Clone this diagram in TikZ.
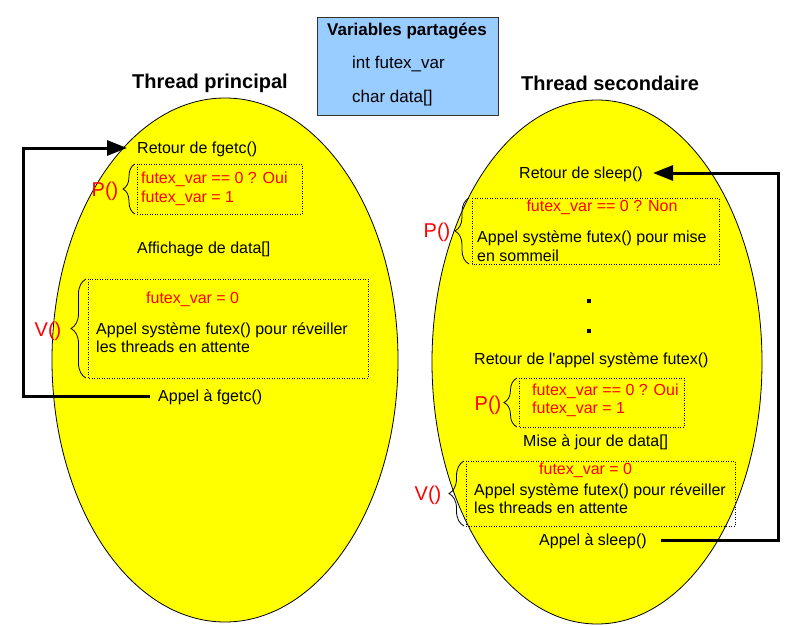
\documentclass[tikz,border=0pt]{standalone}
\usepackage{fontspec}
\setmainfont{Liberation Sans}
\usetikzlibrary{arrows.meta,decorations.pathreplacing,shapes.geometric}
\definecolor{ellyellow}{HTML}{FFFF00}
\definecolor{boxblue}{HTML}{99CCFF}
\definecolor{boxborder}{HTML}{333333}
\definecolor{txtred}{HTML}{FF0000}
\begin{document}
\begin{tikzpicture}[x=1pt,y=-1pt,
  txt/.style={font=\fontsize{16}{19}\selectfont, inner sep=0pt, anchor=west, text height=11.5pt, text depth=0pt},
  rtxt/.style={txt, text=txtred},
  title/.style={font=\fontsize{20}{24}\selectfont\bfseries, inner sep=0pt},
  semlabel/.style={font=\fontsize{20}{24}\selectfont, text=txtred, inner sep=0pt, text height=14.5pt, text depth=0pt},
  threadell/.style={ellipse, draw=black, line width=0.8pt, fill=ellyellow, inner sep=0pt},
  dotbox/.style={draw=black, line width=0.8pt, dash pattern=on 1pt off 1.5pt},
  semb/.style={draw=black, line width=0.8pt, decorate, decoration={brace, amplitude=#1}},
  loopline/.style={draw=black, line width=3pt},
  looparrow/.style={loopline, -{Triangle[length=20pt,width=15pt]}},
  dotsq/.style={fill=black, minimum size=4pt, inner sep=0pt}
]
\useasboundingbox (0,0) rectangle (800,626);

% shared variables box
\node[draw=boxborder, line width=0.8pt, fill=boxblue, minimum width=181pt, minimum height=98pt, inner sep=0pt] (shared) at (407.5,66) {};
\node[font=\fontsize{17}{20}\selectfont\bfseries, inner sep=0pt] (sharedtitle) at (407,31) {Variables partagées};
\node[txt, font=\fontsize{17}{20}\selectfont] (var1) at (352,63) {int futex\_var};
\node[txt, font=\fontsize{17}{20}\selectfont] (var2) at (352,97) {char data[]};

% titles
\node[title] (t1) at (210,83) {Thread principal};
\node[title] (t2) at (610,83) {Thread secondaire};

% ellipses
\node[threadell, minimum width=346pt, minimum height=524pt] (ell1) at (225,360) {};
\node[threadell, minimum width=330pt, minimum height=524pt] (ell2) at (597,362) {};

% ---------- main thread ----------
\node[txt] (retour1) at (137,148) {Retour de fgetc()};
\draw[dotbox] (137,164) rectangle (302,214);
\node[rtxt] (p1a) at (141,178) {futex\_var == 0 ? Oui};
\node[rtxt] (p1b) at (141,197) {futex\_var = 1};
\draw[semb=12pt] (135,214) -- (135,164);
\node[semlabel] (plab1) at (105,189) {P()};
\node[txt] (affich) at (137,248) {Affichage de data[]};
\draw[dotbox] (88,279) rectangle (368,378);
\node[rtxt] (v1a) at (146,298) {futex\_var = 0};
\node[txt] (v1b) at (96,329) {Appel système futex() pour réveiller};
\node[txt] (v1c) at (96,347) {les threads en attente};
\draw[semb=15pt] (86,378) -- (86,279);
\node[semlabel] (vlab1) at (48,329) {V()};
\node[txt] (appel1) at (158,396) {Appel à fgetc()};
\coordinate (loopL) at (23,270);
\draw[looparrow, shorten <=8pt, shorten >=10pt] (appel1.west) -| (loopL) |- (retour1.west);

% ---------- secondary thread ----------
\node[txt] (retour2) at (519,173) {Retour de sleep()};
\draw[dotbox] (472,198) rectangle (719,264);
\node[rtxt, anchor=center] (p2a) at (602,206) {futex\_var == 0 ? Non};
\node[txt] (p2b) at (477,237) {Appel système futex() pour mise};
\node[txt] (p2c) at (477,256) {en sommeil};
\draw[semb=14pt] (469,264) -- (469,198);
\node[semlabel] (plab2) at (437,230) {P()};
\node[dotsq] (dot1) at (589,301) {};
\node[dotsq] (dot2) at (589,331) {};
\node[txt] (retfutex) at (474,359) {Retour de l\textquotesingle appel système futex()};
\draw[dotbox] (519,378) rectangle (684,427);
\node[rtxt] (p3a) at (532,390) {futex\_var == 0 ? Oui};
\node[rtxt] (p3b) at (532,408) {futex\_var = 1};
\draw[semb=13pt] (517,427) -- (517,378);
\node[semlabel] (plab3) at (488,403) {P()};
\node[txt] (mise) at (523,441) {Mise à jour de data[]};
\draw[dotbox] (466,461) rectangle (735,526);
\node[rtxt] (v2a) at (539,469) {futex\_var = 0};
\node[txt] (v2b) at (474,490) {Appel système futex() pour réveiller};
\node[txt] (v2c) at (474,508) {les threads en attente};
\draw[semb=15pt] (464,526) -- (464,461);
\node[semlabel] (vlab2) at (428,493) {V()};
\node[txt] (appel2) at (539,540) {Appel à sleep()};
\coordinate (loopR) at (778,350);
\draw[looparrow, shorten <=14pt, shorten >=10pt] (appel2.east) -| (loopR) |- (retour2.east);
\end{tikzpicture}
\end{document}
